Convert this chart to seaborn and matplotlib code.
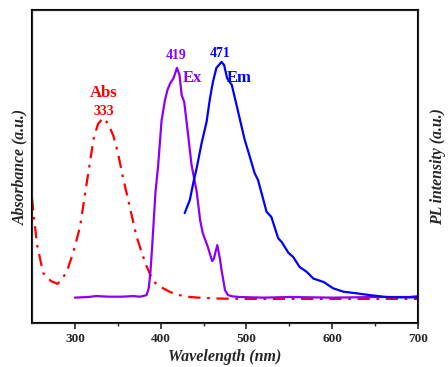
import pandas as pd
import matplotlib.pyplot as plt
import seaborn as sns

# values (arbitrary units, 0..1 of the plot height)
abs_nm = [250, 252, 256, 263, 272, 280, 290, 298, 306, 312, 318, 322, 327, 333, 339, 345,
          350, 356, 364, 372, 382, 391, 400, 411, 422, 434, 450, 470, 500, 550, 600, 650, 700]
abs_val = [0.399, 0.345, 0.249, 0.160, 0.134, 0.125, 0.160, 0.224, 0.307, 0.415, 0.521,
           0.591, 0.636, 0.655, 0.636, 0.597, 0.546, 0.466, 0.371, 0.275, 0.192, 0.134,
           0.115, 0.099, 0.089, 0.083, 0.080, 0.078, 0.077, 0.077, 0.077, 0.077, 0.077]

ex_nm = [300, 315, 325, 340, 355, 368, 376, 383.5, 386, 388, 390, 392, 394, 397, 401, 405,
         408, 411, 415, 419, 422, 424.5, 427.5, 432, 436, 442, 446, 449, 455, 460, 462,
         466, 469, 471, 475, 478.5, 484, 492, 520, 550, 600, 650, 690, 700]
ex_val = [0.081, 0.083, 0.086, 0.084, 0.084, 0.086, 0.084, 0.089, 0.110, 0.160, 0.240,
          0.330, 0.420, 0.500, 0.645, 0.712, 0.745, 0.765, 0.782, 0.815, 0.792, 0.728,
          0.706, 0.601, 0.505, 0.420, 0.329, 0.288, 0.243, 0.198, 0.205, 0.249, 0.207,
          0.169, 0.105, 0.089, 0.085, 0.083, 0.081, 0.083, 0.081, 0.083, 0.083, 0.086]

em_nm = [428, 434, 438, 442, 448, 453.5, 457.5, 461, 465, 471, 474, 477.5, 483, 488.5,
         492, 498, 503, 509.5, 513.5, 523.5, 529, 537, 541, 549, 554.5, 562, 570, 578,
         590, 601, 613, 628, 644, 663, 680, 700]
em_val = [0.351, 0.393, 0.447, 0.495, 0.578, 0.642, 0.718, 0.771, 0.815, 0.834, 0.824,
          0.782, 0.760, 0.696, 0.655, 0.585, 0.540, 0.479, 0.457, 0.355, 0.339, 0.271,
          0.259, 0.224, 0.211, 0.179, 0.164, 0.142, 0.131, 0.111, 0.100, 0.095, 0.089,
          0.083, 0.082, 0.082]

peak_labels = ["333", "419", "471"]

RED, PURPLE, BLUE = "#ff0000", "#8a00ff", "#0000ff"

sns.set_style("ticks")
plt.rcParams["font.family"] = ["Liberation Serif", "DejaVu Serif"]
plt.rcParams["font.weight"] = "bold"

fig = plt.figure(figsize=(4.48, 3.67), dpi=100)
ax = fig.add_axes([0.0714, 0.1199, 0.8616, 0.8529])

sns.lineplot(x=abs_nm, y=abs_val, ax=ax, color=RED, linewidth=1.6, sort=False)
ax.lines[-1].set_linestyle((0, (5.5, 3.0, 1.2, 3.0)))
sns.lineplot(x=ex_nm, y=ex_val, ax=ax, color=PURPLE, linewidth=1.6, sort=False)
sns.lineplot(x=em_nm, y=em_val, ax=ax, color=BLUE, linewidth=1.6, sort=False)

ax.set_xlim(250, 700)
ax.set_ylim(0, 1)
ax.set_xticks([300, 400, 500, 600, 700])
ax.set_xticks([350, 450, 550, 650], minor=True)
ax.set_yticks([])
ax.tick_params(axis="x", which="major", direction="out", length=4, width=1.2,
               labelsize=9.5, pad=3)
ax.tick_params(axis="x", which="minor", direction="out", length=2.5, width=1.0)
for lbl in ax.get_xticklabels():
    lbl.set_fontweight("bold")
for s in ax.spines.values():
    s.set_linewidth(1.5)
    s.set_color("black")
    s.set_visible(True)

ax.set_xlabel("Wavelength (nm)", fontsize=11.5, fontweight="bold", style="italic", labelpad=3)
ax.set_ylabel("Absorbance (a.u.)", fontsize=11.3, fontweight="bold", style="italic", labelpad=3)

ax2 = ax.twinx()
ax2.set_yticks([])
ax2.set_ylabel("PL intensity (a.u.)", fontsize=11.3, fontweight="bold", style="italic", labelpad=9)

ax.text(334, 0.735, "Abs", color=RED, fontsize=12, fontweight="bold", ha="center", va="center")
ax.text(334, 0.677, peak_labels[0], color=RED, fontsize=10, fontweight="bold", ha="center", va="center")
ax.text(418, 0.856, peak_labels[1], color=PURPLE, fontsize=10, fontweight="bold", ha="center", va="center")
ax.text(469, 0.862, peak_labels[2], color=BLUE, fontsize=10, fontweight="bold", ha="center", va="center")
ax.text(436.5, 0.783, "Ex", color=PURPLE, fontsize=12, fontweight="bold", ha="center", va="center")
ax.text(492, 0.783, "Em", color=BLUE, fontsize=12, fontweight="bold", ha="center", va="center")

fig.savefig("out.png", dpi=100)
plt.close(fig)
